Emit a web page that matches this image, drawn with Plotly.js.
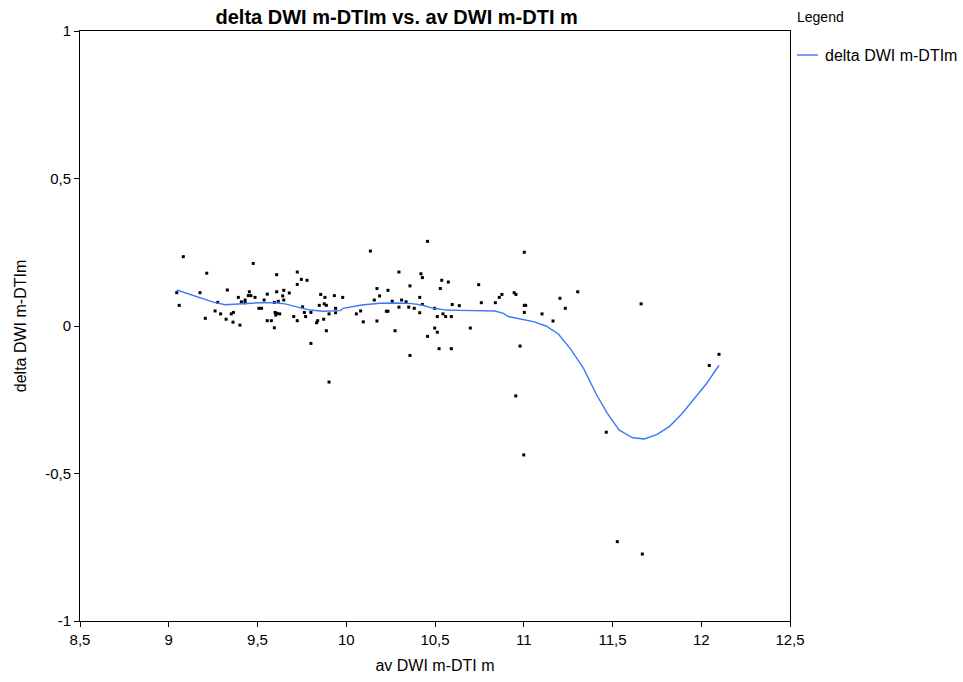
<!DOCTYPE html>
<html>
<head>
<meta charset="utf-8">
<script src="https://cdn.plot.ly/plotly-3.0.1.min.js"></script>
<style>html,body{margin:0;padding:0;background:#fff;}#chart{width:963px;height:682px;}</style>
</head>
<body>
<div id="chart"></div>
<script>
// Scatter observations: av DWI m-DTI m (x) vs delta DWI m-DTIm (y)
const pointX = [
  9.082, 9.476, 9.214, 9.045, 9.176, 9.330, 9.059, 9.276, 9.392, 9.409,
  9.430, 9.430, 9.454, 9.448, 9.463, 9.486, 9.537, 9.508, 9.523, 9.261,
  9.292, 9.364, 9.352, 9.206, 9.323, 9.362, 9.401,
  9.608, 9.724, 9.747, 9.779, 9.724, 9.555, 9.608, 9.648, 9.679, 9.595,
  9.617, 9.648, 9.642, 9.856, 9.880, 9.933, 9.980, 9.848, 9.876, 9.888,
  9.754, 9.801, 9.764, 9.771, 9.704, 9.724, 9.940, 9.940, 9.903, 9.599,
  9.611, 9.625, 9.603, 9.555, 9.578, 9.595, 9.839, 9.833, 9.873, 9.888,
  10.081, 10.057, 10.096, 9.801, 9.903,
  10.458, 10.136, 10.297, 10.421, 10.429, 10.538, 10.575, 10.359, 10.530, 10.173,
  10.235, 10.188, 10.158, 10.414, 10.259, 10.312, 10.337, 10.429, 10.597, 10.637,
  10.297, 10.352, 10.383, 10.498, 10.226, 10.235, 10.414, 10.545, 10.513, 10.560,
  10.592, 10.173, 10.498, 10.275, 10.513, 10.458, 10.523, 10.592, 10.359,
  11.003, 10.746, 10.946, 10.956, 10.877, 10.862, 11.204, 10.761, 10.840, 11.003,
  11.011, 11.003, 11.103, 11.165, 10.699, 10.979, 11.234,
  10.955, 11.000, 11.465, 11.527, 11.668, 11.661, 11.304, 12.045, 12.100
];
const pointY = [
  0.235, 0.212, 0.179, 0.113, 0.113, 0.122, 0.070, 0.080, 0.097, 0.082,
  0.088, 0.079, 0.116, 0.103, 0.103, 0.097, 0.088, 0.060, 0.060, 0.051,
  0.041, 0.046, 0.041, 0.026, 0.023, 0.013, 0.003,
  0.174, 0.183, 0.158, 0.155, 0.141, 0.108, 0.116, 0.121, 0.112, 0.080,
  0.084, 0.088, 0.102, 0.107, 0.097, 0.103, 0.097, 0.070, 0.075, 0.070,
  0.065, 0.046, 0.046, 0.032, 0.032, 0.018, 0.060, 0.045, 0.041, 0.046,
  0.043, 0.041, 0.037, 0.018, 0.018, -0.006, 0.018, 0.011, 0.023, -0.016,
  0.051, 0.041, 0.014, -0.059, -0.190,
  0.287, 0.254, 0.183, 0.177, 0.164, 0.155, 0.149, 0.136, 0.127, 0.127,
  0.121, 0.102, 0.088, 0.097, 0.084, 0.088, 0.082, 0.073, 0.073, 0.069,
  0.064, 0.064, 0.060, 0.060, 0.050, 0.050, 0.045, 0.041, 0.032, 0.032,
  0.032, 0.017, -0.007, -0.016, -0.021, -0.035, -0.077, -0.077, -0.100,
  0.250, 0.140, 0.113, 0.107, 0.107, 0.097, 0.094, 0.079, 0.079, 0.070,
  0.070, 0.046, 0.041, 0.017, -0.007, -0.068, 0.060,
  -0.237, -0.437, -0.360, -0.731, -0.773, 0.075, 0.116, -0.134, -0.096
];

// Smoothed fit line (delta DWI m-DTIm)
const fitX = [
  9.045, 9.251, 9.317, 9.401, 9.514, 9.599, 9.655, 9.721, 9.796, 9.871,
  9.965, 9.983, 10.087, 10.190, 10.284, 10.369, 10.425, 10.490, 10.566, 10.641,
  10.735, 10.838, 10.885, 10.913, 11.054, 11.125, 11.195, 11.261, 11.336, 11.411,
  11.471, 11.538, 11.614, 11.679, 11.749, 11.820, 11.890, 11.955, 12.031, 12.100
];
const fitY = [
  0.122, 0.081, 0.072, 0.075, 0.079, 0.079, 0.075, 0.065, 0.054, 0.050,
  0.052, 0.060, 0.071, 0.077, 0.078, 0.076, 0.071, 0.060, 0.054, 0.053,
  0.053, 0.051, 0.043, 0.032, 0.015, 0.000, -0.027, -0.076, -0.143, -0.234,
  -0.296, -0.353, -0.379, -0.383, -0.368, -0.341, -0.298, -0.251, -0.194, -0.133
];

const xTicks = [8.5, 9, 9.5, 10, 10.5, 11, 11.5, 12, 12.5];
const xTickText = ["8,5", "9", "9,5", "10", "10,5", "11", "11,5", "12", "12,5"];
const yTicks = [-1, -0.5, 0, 0.5, 1];
const yTickText = ["-1", "-0,5", "0", "0,5", "1"];

const chartTitle = "delta DWI m-DTIm vs. av DWI m-DTI m";
const xTitle = "av DWI m-DTI m";
const yTitle = "delta DWI m-DTIm";
const seriesName = "delta DWI m-DTIm";
const legendTitle = "Legend";

const font = "Liberation Sans, Arial, sans-serif";
const lineColor = "#3a7af5";

const traces = [
  {
    type: "scatter", mode: "markers", x: pointX, y: pointY,
    marker: {symbol: "square", size: 3, color: "#000000", line: {width: 0}},
    showlegend: false, hoverinfo: "x+y"
  },
  {
    type: "scatter", mode: "lines", x: fitX, y: fitY, name: seriesName,
    line: {color: lineColor, width: 1.4}, showlegend: false
  }
];

const axisCommon = {
  showgrid: false, zeroline: false, showline: true, linecolor: "#000", linewidth: 1,
  mirror: true, ticks: "outside", ticklen: 5, tickcolor: "#000", tickwidth: 1,
  tickfont: {family: font, size: 15, color: "#000"}
};

const layout = {
  width: 963, height: 682,
  margin: {l: 80, r: 173, t: 31, b: 61},
  paper_bgcolor: "#fff", plot_bgcolor: "#fff",
  separators: ", ",
  font: {family: font, color: "#000"},
  title: {text: "<b>" + chartTitle + "</b>", font: {family: font, size: 20, color: "#000"},
          x: 0.446, xref: "paper", xanchor: "center", y: 0.975, yref: "container", yanchor: "middle"},
  xaxis: Object.assign({}, axisCommon, {
    range: [8.5, 12.5], tickmode: "array", tickvals: xTicks, ticktext: xTickText,
    title: {text: xTitle, font: {family: font, size: 16, color: "#000"}, standoff: 12}
  }),
  yaxis: Object.assign({}, axisCommon, {
    range: [-1, 1], tickmode: "array", tickvals: yTicks, ticktext: yTickText,
    title: {text: yTitle, font: {family: font, size: 16, color: "#000"}, standoff: 14}
  }),
  showlegend: false,
  shapes: [
    {type: "line", xref: "paper", yref: "paper", x0: 1.0099, x1: 1.0394, y0: 0.9593, y1: 0.9593,
     line: {color: lineColor, width: 1.4}}
  ],
  annotations: [
    {text: legendTitle, xref: "paper", yref: "paper", x: 1.007, xanchor: "left",
     y: 1.0237, yanchor: "middle", showarrow: false, font: {family: font, size: 14, color: "#000"}},
    {text: seriesName, xref: "paper", yref: "paper", x: 1.047, xanchor: "left",
     y: 0.9593, yanchor: "middle", showarrow: false, font: {family: font, size: 16, color: "#000"}}
  ]
};

Plotly.newPlot("chart", traces, layout, {displayModeBar: false, staticPlot: true});
</script>
</body>
</html>
